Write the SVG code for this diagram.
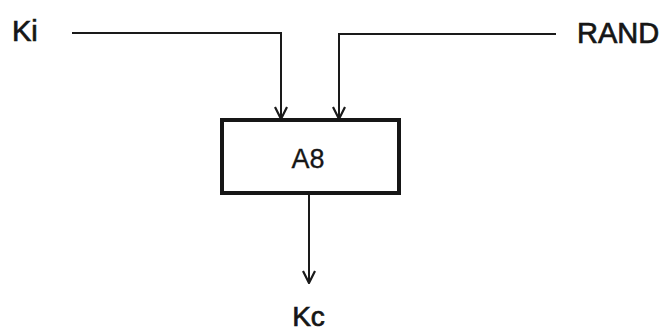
<svg xmlns="http://www.w3.org/2000/svg" width="662" height="332" viewBox="0 0 662 332">
  <style>
    .lbl { font-family: "Liberation Sans", Arial, sans-serif; font-size: 29px; fill: #161616; stroke: #161616; stroke-width: 0.7; }
    .conn { fill: none; stroke: #1a1a1a; stroke-width: 2; }
    .box { fill: #ffffff; stroke: #161616; stroke-width: 4; }
  </style>
  <defs>
    <marker id="arrow" viewBox="0 0 14 14" refX="13" refY="7" markerWidth="14" markerHeight="14" markerUnits="userSpaceOnUse" orient="auto">
      <path d="M1,1 L13,7 L1,13" fill="none" stroke="#1a1a1a" stroke-width="2.2"/>
    </marker>
  </defs>
  <rect width="662" height="332" fill="#ffffff"/>
  <g id="connectors">
    <polyline class="conn" points="72,33 281,33 281,119" marker-end="url(#arrow)"/>
    <polyline class="conn" points="556,34 339,34 339,119" marker-end="url(#arrow)"/>
    <line class="conn" x1="309" y1="194" x2="309" y2="283" marker-end="url(#arrow)"/>
  </g>
  <g id="node-ki">
    <text class="lbl" x="12" y="41">Ki</text>
  </g>
  <g id="node-rand">
    <text class="lbl" x="577" y="43">RAND</text>
  </g>
  <g id="node-a8">
    <rect class="box" x="222" y="120" width="177" height="73"/>
    <text class="lbl" x="308" y="168" text-anchor="middle" style="font-size:27px;stroke-width:0.3">A8</text>
  </g>
  <g id="node-kc">
    <text class="lbl" x="308.5" y="326" text-anchor="middle" style="font-size:28px">Kc</text>
  </g>
</svg>
